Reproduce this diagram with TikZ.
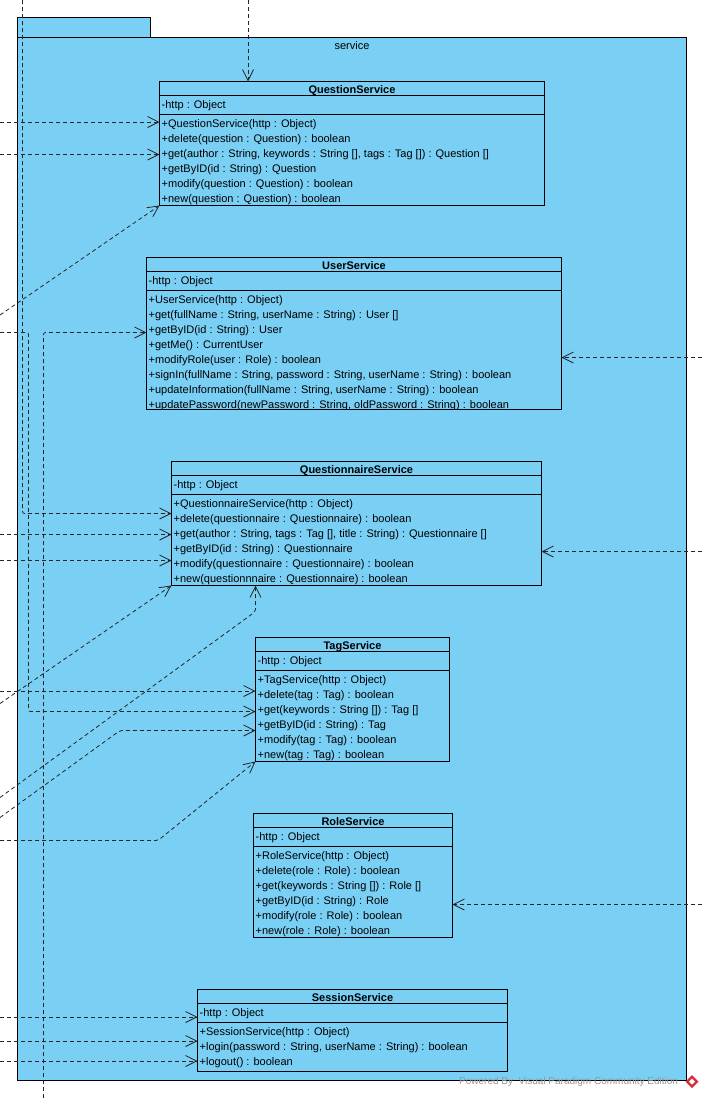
\documentclass[tikz,border=0pt]{standalone}
\usepackage{fontspec}
\setmainfont{Liberation Sans}
\usetikzlibrary{arrows.meta,calc}
\definecolor{clsfill}{RGB}{122,207,245}
\definecolor{wmgray}{RGB}{150,150,150}
\definecolor{logored}{RGB}{215,45,55}
\tikzset{
  cls/.style={draw=black, fill=clsfill, line width=1pt, inner sep=0pt, outer sep=0pt},
  pkgbox/.style={draw=black, fill=clsfill, line width=1pt, inner sep=0pt, outer sep=0pt},
  sepline/.style={draw=black, line width=1pt},
  txt/.style={anchor=base west, inner sep=0pt, font=\fontsize{11}{13}\selectfont},
  ttl/.style={anchor=base, inner sep=0pt, font=\fontsize{11}{13}\selectfont\bfseries},
  dep/.style={draw=black!85, line width=0.8pt, dash pattern=on 4pt off 3pt,
    -{Straight Barb[length=11pt,width=11pt]}, rounded corners=2pt},
  wm/.style={anchor=west, inner sep=0pt, text=wmgray, font=\fontsize{10}{12}\selectfont}
}
\newcommand\svcclass[7]{%
  \node[cls, minimum width=#4pt, minimum height=#5pt, anchor=north west] (#1) at (#2,#3) {};
  \draw[sepline] ($(#1.north west)+(0,14)$) -- ($(#1.north east)+(0,14)$);
  \draw[sepline] ($(#1.north west)+(0,33)$) -- ($(#1.north east)+(0,33)$);
  \node[ttl] (#1-t) at ($(#1.north)+(0,12)$) {#6};
  \node[txt] (#1-a) at ($(#1.north west)+(2,27)$) {-http : Object};
  \begin{scope}
    \clip (#1.north west) rectangle (#1.south east);
    \foreach \m [count=\i from 0] in {#7}
      \node[txt] (#1-m\i) at ($(#1.north west)+(2,{46+15*\i})$) {\m};
  \end{scope}
}
\begin{document}
\begin{tikzpicture}[x=1pt,y=-1pt]
\useasboundingbox (0,0) rectangle (702,1098);
% package
\node[pkgbox, minimum width=133pt, minimum height=20pt, anchor=north west] (pkgtab) at (17.5,17.5) {};
\node[pkgbox, minimum width=669pt, minimum height=1043pt, anchor=north west] (pkg) at (17.5,37.5) {};
\node[anchor=base, inner sep=0pt, font=\fontsize{11}{13}\selectfont] (pkglabel) at (352,49) {service};

% classes
\svcclass{qs}{159.5}{81.5}{385}{124}{QuestionService}{{+QuestionService(http : Object)},{+delete(question : Question) : boolean},{+get(author : String, keywords : String [], tags : Tag []) : Question []},{+getByID(id : String) : Question},{+modify(question : Question) : boolean},{+new(question : Question) : boolean}}
\svcclass{us}{146.5}{257.5}{415}{152}{UserService}{{+UserService(http : Object)},{+get(fullName : String, userName : String) : User []},{+getByID(id : String) : User},{+getMe() : CurrentUser},{+modifyRole(user : Role) : boolean},{+signIn(fullName : String, password : String, userName : String) : boolean},{+updateInformation(fullName : String, userName : String) : boolean},{+updatePassword(newPassword : String, oldPassword : String) : boolean}}
\svcclass{qn}{171.5}{461.5}{370}{124}{QuestionnaireService}{{+QuestionnaireService(http : Object)},{+delete(questionnaire : Questionnaire) : boolean},{+get(author : String, tags : Tag [], title : String) : Questionnaire []},{+getByID(id : String) : Questionnaire},{+modify(questionnaire : Questionnaire) : boolean},{+new(questionnnaire : Questionnaire) : boolean}}
\svcclass{tag}{255.5}{637.5}{194}{124}{TagService}{{+TagService(http : Object)},{+delete(tag : Tag) : boolean},{+get(keywords : String []) : Tag []},{+getByID(id : String) : Tag},{+modify(tag : Tag) : boolean},{+new(tag : Tag) : boolean}}
\svcclass{role}{253.5}{813.5}{199}{124}{RoleService}{{+RoleService(http : Object)},{+delete(role : Role) : boolean},{+get(keywords : String []) : Role []},{+getByID(id : String) : Role},{+modify(role : Role) : boolean},{+new(role : Role) : boolean}}
\svcclass{ses}{197.5}{989.5}{310}{82}{SessionService}{{+SessionService(http : Object)},{+login(password : String, userName : String) : boolean},{+logout() : boolean}}

% free ends and bends
\coordinate (t1) at (248,0);
\coordinate (l1) at (0,122);
\coordinate (l2) at (0,154.5);
\coordinate (l3) at (0,315);
\coordinate (t2) at (22.5,0);
\coordinate (k2) at (22.5,513.5);
\coordinate (l4) at (0,332.5);
\coordinate (k4a) at (28.5,332.5);
\coordinate (k4b) at (28.5,711.5);
\coordinate (b1) at (43.5,1098);
\coordinate (k5) at (43.5,332.5);
\coordinate (r1) at (702,357.5);
\coordinate (l5) at (0,534.5);
\coordinate (l6) at (0,560.5);
\coordinate (r2) at (702,551.5);
\coordinate (l7) at (0,703.5);
\coordinate (l8) at (0,797.5);
\coordinate (k8) at (255.5,611.5);
\coordinate (l9) at (0,691);
\coordinate (l10) at (0,817.5);
\coordinate (k10) at (120,730.5);
\coordinate (l11) at (0,840.5);
\coordinate (k11) at (158,840.5);
\coordinate (r3) at (702,904.5);
\coordinate (l12) at (0,1017);
\coordinate (l13) at (0,1041);
\coordinate (l14) at (0,1061);

% connectors
\draw[dep] (t1) -- (t1 |- qs.north);
\draw[dep] (l1) -- (l1 -| qs.west);
\draw[dep] (l2) -- (l2 -| qs.west);
\draw[dep] (l3) -- (qs.south west);
\draw[dep] (t2) -- (k2) -- (k2 -| qn.west);
\draw[dep] (l4) -- (k4a) -- (k4b) -- (k4b -| tag.west);
\draw[dep] (b1) -- (k5) -- (k5 -| us.west);
\draw[dep] (r1) -- (r1 -| us.east);
\draw[dep] (l5) -- (l5 -| qn.west);
\draw[dep] (l6) -- (l6 -| qn.west);
\draw[dep] (r2) -- (r2 -| qn.east);
\draw[dep] (l7) -- (qn.south west);
\draw[dep] (l8) -- (k8) -- (k8 |- qn.south);
\draw[dep] (l9) -- (l9 -| tag.west);
\draw[dep] (l10) -- (k10) -- (k10 -| tag.west);
\draw[dep] (l11) -- (k11) -- (tag.south west);
\draw[dep] (r3) -- (r3 -| role.east);
\draw[dep] (l12) -- (l12 -| ses.west);
\draw[dep] (l13) -- (l13 -| ses.west);
\draw[dep] (l14) -- (l14 -| ses.west);

% watermark
\node[wm] (wmtext) at (459,1082) {Powered By\ \ Visual Paradigm Community Edition};
\fill[logored] (692,1075) -- (698.5,1081.5) -- (692,1088) -- (685.5,1081.5) -- cycle;
\fill[white] (692,1078.5) -- (695,1081.5) -- (692,1084.5) -- (689,1081.5) -- cycle;
\end{tikzpicture}
\end{document}
